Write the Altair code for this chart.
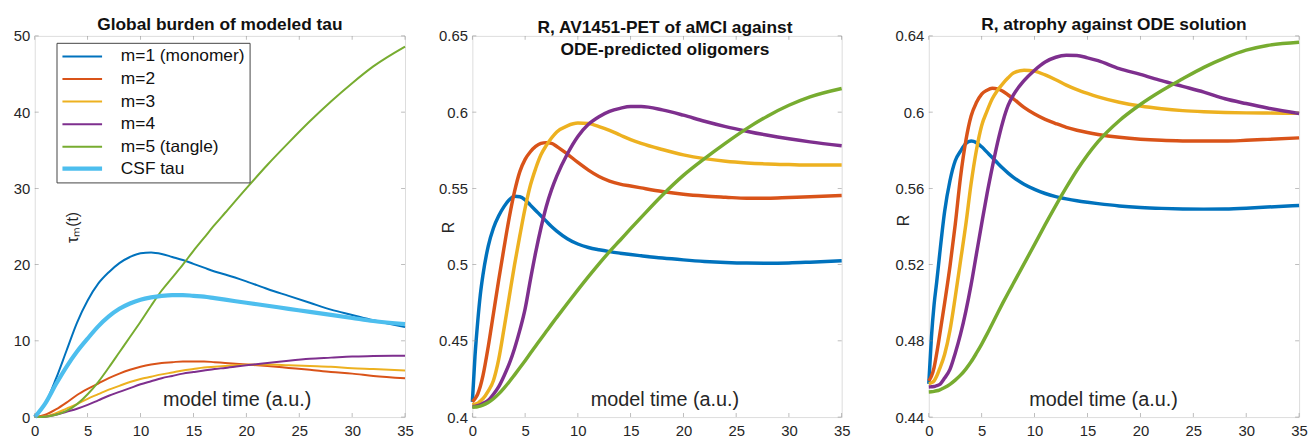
import altair as alt
import pandas as pd

# ---------------- data ----------------
X_TICKS = [0, 5, 10, 15, 20, 25, 30, 35]

T1 = [0, 1, 2, 3, 4, 5, 6, 7, 8, 9, 10, 11, 12, 13, 14, 15, 16, 17, 18, 20, 22, 24, 26, 28, 30, 32, 35]
P1_NAMES = ["m=1 (monomer)", "m=2", "m=3", "m=4", "m=5 (tangle)", "CSF tau"]
p1_m1 = [0, 1.8, 5.0, 8.7, 12.4, 15.3, 17.5, 19.0, 20.2, 21.0, 21.5, 21.6, 21.4, 21.0, 20.6, 20.1, 19.6, 19.1, 18.7, 17.8, 16.8, 15.9, 15.0, 14.1, 13.4, 12.7, 11.8]
p1_m2 = [0, 0.3, 1.0, 1.9, 2.9, 3.7, 4.4, 5.1, 5.7, 6.2, 6.6, 6.9, 7.1, 7.2, 7.3, 7.3, 7.3, 7.2, 7.1, 6.9, 6.7, 6.45, 6.2, 5.9, 5.7, 5.4, 5.1]
p1_m3 = [0, 0.1, 0.5, 1.1, 1.7, 2.4, 3.0, 3.6, 4.1, 4.6, 5.0, 5.3, 5.6, 5.85, 6.1, 6.3, 6.5, 6.6, 6.7, 6.85, 6.9, 6.8, 6.7, 6.6, 6.4, 6.3, 6.1]
p1_m4 = [0, 0.05, 0.3, 0.7, 1.1, 1.6, 2.2, 2.8, 3.3, 3.8, 4.3, 4.7, 5.1, 5.4, 5.7, 5.9, 6.1, 6.3, 6.45, 6.8, 7.1, 7.4, 7.65, 7.8, 7.95, 8.0, 8.05]
p1_m5 = [0, 0.05, 0.3, 0.8, 1.7, 3.0, 4.6, 6.5, 8.5, 10.5, 12.5, 14.6, 16.6, 18.3, 20.0, 21.8, 23.5, 25.2, 26.8, 30.0, 33.1, 36.0, 38.8, 41.4, 43.8, 46.0, 48.6]
p1_csf = [0, 1.8, 4.3, 6.6, 8.6, 10.3, 11.9, 13.2, 14.2, 14.9, 15.4, 15.7, 15.9, 16.0, 16.0, 15.9, 15.8, 15.6, 15.4, 15.0, 14.6, 14.2, 13.8, 13.4, 13.0, 12.6, 12.2]

T23 = [0, 0.25, 0.5, 0.75, 1, 1.5, 2, 2.5, 3, 3.5, 4, 4.5, 5, 5.5, 6, 6.5, 7, 7.5, 8, 9, 10, 11, 12, 13, 14, 15, 16, 18, 20, 22, 24, 26, 28, 30, 32, 35]
P23_NAMES = ["m=1", "m=2", "m=3", "m=4", "m=5"]

p2_m1 = [0.41, 0.44, 0.462, 0.48, 0.493, 0.512, 0.524, 0.532, 0.538, 0.5425, 0.5448, 0.5445, 0.5425, 0.539, 0.5355, 0.532, 0.5285, 0.525, 0.522, 0.517, 0.5135, 0.5112, 0.5097, 0.5085, 0.5075, 0.5066, 0.5058, 0.5043, 0.5031, 0.5021, 0.5014, 0.501, 0.5009, 0.5011, 0.5016, 0.5025]
p2_m2 = [0.41, 0.412, 0.415, 0.42, 0.427, 0.446, 0.468, 0.49, 0.511, 0.531, 0.548, 0.561, 0.569, 0.574, 0.5775, 0.5795, 0.58, 0.5795, 0.5775, 0.5725, 0.567, 0.562, 0.5578, 0.5548, 0.5528, 0.5515, 0.5503, 0.548, 0.5462, 0.545, 0.5442, 0.5435, 0.5435, 0.544, 0.5445, 0.5453]
p2_m3 = [0.408, 0.4085, 0.409, 0.4105, 0.412, 0.417, 0.424, 0.438, 0.458, 0.479, 0.5, 0.519, 0.537, 0.552, 0.563, 0.572, 0.578, 0.583, 0.587, 0.591, 0.5928, 0.5925, 0.5905, 0.588, 0.585, 0.582, 0.5795, 0.5755, 0.572, 0.5695, 0.5678, 0.5667, 0.566, 0.5656, 0.5653, 0.5653]
p2_m4 = [0.407, 0.407, 0.4075, 0.408, 0.409, 0.411, 0.415, 0.42, 0.427, 0.435, 0.445, 0.457, 0.471, 0.49, 0.508, 0.524, 0.538, 0.549, 0.558, 0.5725, 0.584, 0.592, 0.597, 0.6005, 0.6025, 0.6037, 0.6037, 0.6015, 0.598, 0.594, 0.5905, 0.5875, 0.5848, 0.5825, 0.5805, 0.578]
p2_m5 = [0.4065, 0.4066, 0.4068, 0.4072, 0.4078, 0.4095, 0.412, 0.4152, 0.419, 0.4232, 0.4277, 0.4323, 0.437, 0.4418, 0.4466, 0.4514, 0.4561, 0.4608, 0.4654, 0.4745, 0.4834, 0.4921, 0.5005, 0.5085, 0.516, 0.5236, 0.531, 0.5455, 0.5585, 0.5695, 0.5797, 0.5892, 0.5975, 0.6045, 0.61, 0.6155]

p3_m1 = [0.4575, 0.482, 0.499, 0.511, 0.524, 0.548, 0.564, 0.5745, 0.5795, 0.5835, 0.5848, 0.584, 0.5818, 0.579, 0.5762, 0.5733, 0.5705, 0.568, 0.5658, 0.5622, 0.5595, 0.5573, 0.5557, 0.5545, 0.5535, 0.5527, 0.552, 0.5508, 0.55, 0.5495, 0.5492, 0.5491, 0.5492, 0.5496, 0.5502, 0.551]
p3_m2 = [0.459, 0.4615, 0.466, 0.4735, 0.482, 0.5, 0.519, 0.541, 0.566, 0.585, 0.598, 0.605, 0.6095, 0.6115, 0.6125, 0.6122, 0.611, 0.609, 0.607, 0.6025, 0.599, 0.5962, 0.594, 0.592, 0.5905, 0.5893, 0.5883, 0.5868, 0.5858, 0.5852, 0.5849, 0.5848, 0.5848, 0.5852, 0.5857, 0.5865]
p3_m3 = [0.4575, 0.458, 0.459, 0.4615, 0.465, 0.473, 0.4855, 0.503, 0.522, 0.541, 0.5625, 0.58, 0.593, 0.6005, 0.607, 0.6115, 0.615, 0.618, 0.6205, 0.622, 0.6215, 0.6195, 0.617, 0.6142, 0.6118, 0.6098, 0.608, 0.6052, 0.6032, 0.6018, 0.6008, 0.6002, 0.5998, 0.5996, 0.5995, 0.5994]
p3_m4 = [0.4558, 0.4559, 0.456, 0.4565, 0.457, 0.4605, 0.465, 0.4735, 0.4835, 0.4955, 0.5095, 0.5255, 0.5415, 0.557, 0.571, 0.584, 0.595, 0.6035, 0.609, 0.6165, 0.622, 0.6263, 0.6288, 0.6298, 0.6297, 0.6285, 0.627, 0.6228, 0.6198, 0.6165, 0.6135, 0.6105, 0.607, 0.6045, 0.6022, 0.5993]
p3_m5 = [0.4532, 0.4533, 0.4535, 0.4538, 0.4542, 0.4555, 0.4572, 0.4594, 0.462, 0.4652, 0.469, 0.4735, 0.4783, 0.4835, 0.489, 0.4945, 0.4999, 0.5051, 0.5102, 0.5204, 0.5306, 0.541, 0.551, 0.5605, 0.5695, 0.5775, 0.5845, 0.5955, 0.604, 0.6112, 0.6175, 0.6235, 0.6285, 0.6325, 0.635, 0.6367]

P1_Y_TICKS = [0, 10, 20, 30, 40, 50]
P2_Y_TICKS = [0.4, 0.45, 0.5, 0.55, 0.6, 0.65]
P3_Y_TICKS = [0.44, 0.48, 0.52, 0.56, 0.6, 0.64]

COLORS = ["#0072BD", "#D95319", "#EDB120", "#7E2F8E", "#77AC30", "#4DBEEE"]
P1_WIDTHS = [2, 2, 2, 2, 2, 4.2]

FONT = "Liberation Sans"
TXT = "#262626"
BOX = "#8a8a8a"


def long_df(t, names, series):
    rows = []
    for n, vals in zip(names, series):
        for ti, v in zip(t, vals):
            rows.append({"t": ti, "v": v, "s": n})
    return pd.DataFrame(rows)


def panel(df, names, colors, ydom, yticks, yfmt, W, H, title, toff, ytitle, ytx, yty,
          xtx, extent, legend=None, widths=None, lw=3.5, dx=0, ytsize=16):
    xs = alt.Scale(domain=[0, 35], nice=False, zero=False)
    ys = alt.Scale(domain=ydom, nice=False, zero=False)
    xaxis = alt.Axis(values=X_TICKS, format="d", ticks=False, tickSize=0, domain=False,
                     grid=False, labelPadding=7, labelFontSize=15, labelColor=TXT,
                     labelFont=FONT, labelFlush=False,
                     title="model time (a.u.)", titleX=xtx, titleY=-18,
                     titleAlign="center", titleBaseline="middle", titleFontSize=20,
                     titleFontWeight="normal", titleColor=TXT, titleFont=FONT)
    yaxis = alt.Axis(values=yticks, format=yfmt, ticks=False, tickSize=0, domain=False,
                     grid=False, labelPadding=5, labelFontSize=15, labelColor=TXT,
                     labelFont=FONT, labelFlush=False,
                     title=ytitle, titleX=ytx, titleY=yty, titleAngle=270,
                     titleAlign="center", titleBaseline="middle", titleFontSize=ytsize,
                     titleFontWeight="normal", titleColor=TXT, titleFont=FONT,
                     minExtent=extent, maxExtent=extent)
    X = alt.X("t:Q", scale=xs, axis=xaxis)
    Y = alt.Y("v:Q", scale=ys, axis=yaxis)
    enc = dict(
        x=X, y=Y,
        color=alt.Color("s:N", scale=alt.Scale(domain=names, range=colors),
                        legend=legend),
    )
    if widths is not None:
        enc["strokeWidth"] = alt.StrokeWidth(
            "s:N", scale=alt.Scale(type="ordinal", domain=names, range=widths),
            legend=legend)
        lines = alt.Chart(df).mark_line(interpolate="monotone").encode(**enc)
    else:
        lines = alt.Chart(df).mark_line(interpolate="monotone", strokeWidth=lw).encode(**enc)

    xt = pd.DataFrame({"t": X_TICKS})
    yt = pd.DataFrame({"v": yticks})
    tk = dict(size=4, thickness=0.8, color=BOX)
    xb = alt.Chart(xt).mark_tick(orient="vertical", **tk).encode(x=X, y=alt.value(H - 2))
    xtop = alt.Chart(xt).mark_tick(orient="vertical", **tk).encode(x=X, y=alt.value(2))
    yl = alt.Chart(yt).mark_tick(orient="horizontal", **tk).encode(y=Y, x=alt.value(2))
    yr = alt.Chart(yt).mark_tick(orient="horizontal", **tk).encode(y=Y, x=alt.value(W - 2))

    return alt.layer(lines, xb, xtop, yl, yr).properties(
        width=W, height=H,
        title=alt.TitleParams(text=title, fontSize=17.5, fontWeight="bold", font=FONT,
                              color="#111111", anchor="middle", frame="group",
                              offset=toff, lineHeight=22.5, dx=dx))


df1 = long_df(T1, P1_NAMES, [p1_m1, p1_m2, p1_m3, p1_m4, p1_m5, p1_csf])
df2 = long_df(T23, P23_NAMES, [p2_m1, p2_m2, p2_m3, p2_m4, p2_m5])
df3 = long_df(T23, P23_NAMES, [p3_m1, p3_m2, p3_m3, p3_m4, p3_m5])

legend1 = alt.Legend(title=None, orient="none", legendX=22, legendY=7, direction="vertical",
                     symbolType="M-3,0H3", symbolSize=178, symbolOffset=12,
                     labelOffset=30, labelFontSize=17.5, labelFont=FONT, labelColor="#111111",
                     labelLimit=400, padding=5, rowPadding=3.8, fillColor="white",
                     strokeColor="#444444", cornerRadius=0)

H = 385
p1 = panel(df1, P1_NAMES, COLORS, [0, 50], P1_Y_TICKS, "d", 374, H,
           "Global burden of modeled tau", -5, "τₘ(t)", 38, 193, 204, 26,
           legend=legend1, widths=P1_WIDTHS, ytsize=16)
p2 = panel(df2, P23_NAMES, COLORS[:5], [0.4, 0.65], P2_Y_TICKS, "~g", 373, H,
           ["R, AV1451-PET of aMCI against", "ODE-predicted oligomers"], -30, "R", -24, 193, 194, 48,
           dx=8)
p3 = panel(df3, P23_NAMES, COLORS[:5], [0.44, 0.64], P3_Y_TICKS, ".2~f", 374, H,
           "R, atrophy against ODE solution", -5, "R", -25, 186, 176, 68)

chart = alt.hconcat(p1, p2, p3, spacing=10).resolve_scale(
    color="independent", strokeWidth="independent", x="independent", y="independent"
).properties(
    padding={"left": 0, "top": 6, "right": 0, "bottom": 0}
).configure_view(stroke=BOX, strokeWidth=1).configure(font=FONT)

chart.save("out.html", embed_options={"renderer": "svg", "actions": False})
